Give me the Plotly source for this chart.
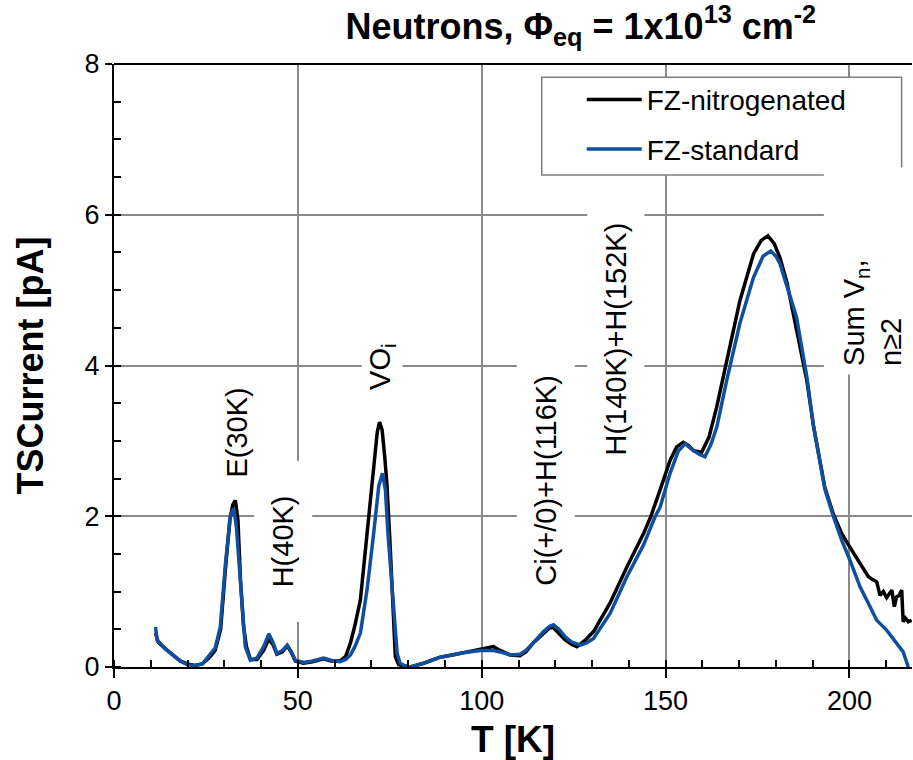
import plotly.graph_objects as go

# ---------------- data ----------------
T_nitro = [11.3, 12, 14, 16.3, 18, 20, 22, 24, 26, 27.5, 29, 30.3, 31.5, 32.3, 33.0, 33.7,
           34.4, 35.2, 36, 37.1, 38.9, 40.7, 42.1, 43.2, 44.3, 45.8, 47.1, 48.2, 49.3, 51.5,
           54, 57, 59, 61.5, 63, 64.3, 65.5, 67, 68.8, 70.6, 71.6, 72.2, 72.9, 73.6, 74.2,
           75.0, 75.6, 76.5, 77.4, 79, 80.6, 84.2, 88.7, 92, 95, 99.6, 101.5, 103.2, 105,
           107.7, 110.4, 112, 114, 116.8, 118.5, 119.5, 121, 122.7, 124.5, 125.9, 128, 130.4,
           134.9, 139.5, 144, 146, 148.5, 151.2, 153, 154.8, 156.2, 157.6, 159.8, 161.8,
           163.9, 166.6, 170.2, 173.9, 176, 177.8, 179.5, 181.1, 183, 184.7, 186.6, 188.4,
           190.2, 191.5, 193.3, 195.6, 197.9, 200.1, 201.5, 202.9, 204, 205.1, 206.3, 207.4,
           208.3, 209.2, 210.1, 211, 211.5, 212.2, 212.8, 213.5, 214.2, 214.6, 215.2, 216,
           216.9]
I_nitro = [0.45, 0.33, 0.24, 0.14, 0.08, 0.04, 0.02, 0.04, 0.13, 0.22, 0.50, 1.30, 1.95,
           2.15, 2.21, 1.95, 1.15, 0.55, 0.27, 0.10, 0.10, 0.22, 0.37, 0.30, 0.17, 0.20, 0.28,
           0.20, 0.08, 0.05, 0.07, 0.11, 0.08, 0.08, 0.14, 0.32, 0.55, 0.89, 1.77, 2.74, 3.12,
           3.25, 3.15, 2.80, 2.44, 1.70, 1.11, 0.14, 0.03, 0.01, 0.00, 0.05, 0.13, 0.16, 0.19,
           0.24, 0.25, 0.27, 0.22, 0.16, 0.15, 0.20, 0.32, 0.45, 0.52, 0.52, 0.45, 0.36, 0.30,
           0.27, 0.35, 0.47, 0.85, 1.33, 1.77, 2.00, 2.35, 2.74, 2.92, 2.98, 2.94, 2.87, 2.85,
           3.05, 3.45, 4.07, 4.86, 5.48, 5.66, 5.72, 5.62, 5.43, 5.10, 4.69, 4.25, 3.80, 3.20,
           2.85, 2.38, 2.03, 1.77, 1.59, 1.48, 1.38, 1.30, 1.20, 1.16, 1.13, 0.95, 1.00, 0.92,
           0.99, 1.02, 0.80, 0.93, 0.95, 1.02, 0.60, 0.65, 0.60, 0.62]

T_std = [11.3, 11.7, 14, 16.3, 18, 20, 22, 24, 26, 27.5, 28.9, 30.3, 31.7, 32.6, 33.3, 34.4,
         35.2, 35.7, 37.1, 38.9, 40.7, 42.1, 43.2, 44.3, 45.8, 47.1, 48.2, 49.3, 51.5, 54, 57,
         59, 61.5, 63, 64.3, 65.5, 67, 68.8, 70.6, 72, 73.0, 73.8, 74.5, 75.3, 76, 77, 77.8,
         79, 80.6, 84.2, 88.7, 92, 95, 99.6, 103.2, 105, 107.7, 110.4, 112, 114, 116.8, 118.5,
         119.5, 121, 122.7, 124.5, 126.8, 128.5, 130.4, 134.9, 139.5, 144, 147.1, 148.5,
         151.2, 153.5, 155.3, 157.6, 159.2, 160.7, 162.3, 163.9, 166.6, 170.2, 173.9, 176.5,
         178.6, 180, 181.1, 183, 185.6, 188.4, 190.2, 191.5, 193.3, 195.6, 197.9, 200.1,
         202.9, 205.1, 207.4, 210.1, 211.5, 212.8, 213.7, 214.6, 215.3, 216]
I_std = [0.53, 0.36, 0.24, 0.14, 0.08, 0.03, 0.02, 0.04, 0.15, 0.25, 0.53, 1.37, 2.03, 2.10,
         1.85, 1.15, 0.55, 0.27, 0.09, 0.12, 0.27, 0.44, 0.33, 0.18, 0.22, 0.29, 0.20, 0.09,
         0.06, 0.08, 0.12, 0.09, 0.07, 0.10, 0.16, 0.27, 0.45, 1.02, 1.77, 2.40, 2.57, 2.35,
         1.77, 1.25, 0.89, 0.18, 0.05, 0.02, 0.00, 0.05, 0.13, 0.16, 0.19, 0.22, 0.22, 0.20,
         0.16, 0.17, 0.22, 0.32, 0.47, 0.54, 0.56, 0.50, 0.40, 0.33, 0.29, 0.32, 0.38, 0.71,
         1.20, 1.62, 1.99, 2.12, 2.57, 2.87, 2.96, 2.87, 2.82, 2.79, 2.95, 3.18, 3.80, 4.56,
         5.17, 5.45, 5.52, 5.45, 5.35, 5.05, 4.64, 3.85, 3.20, 2.85, 2.36, 2.00, 1.68, 1.42,
         1.06, 0.85, 0.62, 0.49, 0.40, 0.32, 0.25, 0.20, 0.10, 0.00]

series_names = ["FZ-nitrogenated", "FZ-standard"]
x_tick_vals = [0, 50, 100, 150, 200]
y_tick_vals = [0, 2, 4, 6, 8]

peak_labels = ["E(30K)", "H(40K)", "VO<sub>i</sub>", "Ci(+/0)+H(116K)",
               "H(140K)+H(152K)", "Sum V<sub>n</sub>,<br>n≥2"]
peak_label_T = [33.4, 46.1, 73.0, 117.3, 136.5, 206.3]
peak_label_I = [3.11, 1.66, 3.99, 2.48, 4.35, 5.25]

title_text = "<b>Neutrons, Φ<sub>eq</sub> = 1x10<sup>13</sup> cm<sup>-2</sup></b>"
x_title = "<b>T [K]</b>"
y_title = "<b>TSCurrent [pA]</b>"

# ---------------- styling ----------------
FONT = "Liberation Sans, Arial, sans-serif"
BLACK = "#000000"
BLUE = "#0f4f9e"
GRID = "#8a8a8a"

fig = go.Figure()
fig.add_trace(go.Scatter(x=T_nitro, y=I_nitro, mode="lines", name=series_names[0],
                         legendgroup="a", line=dict(color=BLACK, width=3.5)))
fig.add_trace(go.Scatter(x=T_std, y=I_std, mode="lines", name=series_names[1],
                         legendgroup="b", line=dict(color=BLUE, width=3.5)))

# annotation boxes (white background hides the gridlines, as in the reference)
box_w = [100, 160, 80, 280, 290, 190]
box_h = [40, 57, 40, 57, 56, 80]
aligns = ["center", "center", "center", "center", "center", "left"]
for txt, tx, iy, bw, bh, al in zip(peak_labels, peak_label_T, peak_label_I, box_w, box_h, aligns):
    fig.add_annotation(x=tx, y=iy, xref="x", yref="y", text=txt, showarrow=False,
                       textangle=-90, bgcolor="white", width=bw, height=bh,
                       borderpad=8 if al == "left" else 0, align=al,
                       font=dict(family=FONT, size=29, color="black"))

# top frame line
fig.add_shape(type="line", xref="paper", yref="paper", x0=0, x1=1, y0=1, y1=1,
              line=dict(color="black", width=2))
# legend frame (white box with grey border, hides gridlines behind the legend)
fig.add_shape(type="rect", xref="paper", yref="paper", x0=0.536, x1=0.987,
              y0=0.816, y1=0.978, fillcolor="white", layer="above",
              line=dict(color="#7f7f7f", width=1.5))

fig.update_layout(
    width=913, height=760,
    margin=dict(l=114, r=1, t=64, b=93),
    paper_bgcolor="white", plot_bgcolor="white",
    font=dict(family=FONT, color="black"),
    title=dict(text=title_text, x=0.585, xref="paper", xanchor="center",
               y=1 - 26 / 760, yref="container", yanchor="middle",
               font=dict(family=FONT, size=36, color="black")),
    showlegend=True,
    legend=dict(x=0.536, y=0.982, xanchor="left", yanchor="top",
                bgcolor="rgba(0,0,0,0)", borderwidth=0,
                font=dict(family=FONT, size=28, color="black"),
                tracegroupgap=10, itemwidth=55, indentation=40),
)

fig.update_xaxes(range=[0, 217], tickvals=x_tick_vals, ticks="outside", ticklen=9,
                 tickwidth=2, tickcolor="black", showline=True, linecolor="black",
                 linewidth=2, showgrid=True, gridcolor=GRID, gridwidth=1.5,
                 zeroline=False, tickfont=dict(family=FONT, size=27, color="black"),
                 minor=dict(dtick=10, ticks="inside", ticklen=7, tickwidth=2,
                            tickcolor="black", showgrid=False),
                 title=dict(text=x_title, font=dict(family=FONT, size=37, color="black"),
                            standoff=14))
fig.update_yaxes(range=[0, 8], tickvals=y_tick_vals, ticks="outside", ticklen=7,
                 tickwidth=2, tickcolor="black", showline=True, linecolor="black",
                 linewidth=2, showgrid=True, gridcolor=GRID, gridwidth=1.5,
                 zeroline=False, tickfont=dict(family=FONT, size=27, color="black"),
                 minor=dict(dtick=0.5, ticks="inside", ticklen=7, tickwidth=2,
                            tickcolor="black", showgrid=False),
                 title=dict(text=y_title, font=dict(family=FONT, size=36, color="black"),
                            standoff=30))

fig.write_html("out.html")
